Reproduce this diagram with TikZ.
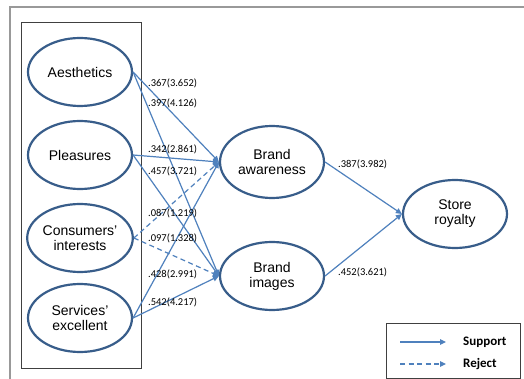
\documentclass[tikz,border=0pt]{standalone}
\usepackage{fontspec}
\setmainfont{Liberation Sans}
\newfontfamily\calfont{Carlito}
\usetikzlibrary{shapes.geometric,arrows.meta}
\definecolor{ellblue}{HTML}{385D8A}
\definecolor{arrblue}{HTML}{4F81BD}
\tikzset{
  construct/.style={ellipse, draw=ellblue, line width=2.2pt, minimum width=104pt, minimum height=68pt, inner sep=0pt, align=center, font=\fontsize{14}{16}\selectfont},
  supp/.style={draw=arrblue, line width=1.2pt, -{Triangle[length=6pt,width=5.5pt]}},
  rejpath/.style={supp, dash pattern=on 5pt off 3.5pt},
  coef/.style={anchor=west, inner sep=0pt, font=\calfont\fontsize{10.5}{12}\selectfont, text=black},
  legtext/.style={anchor=west, inner sep=0pt, font=\calfont\bfseries\fontsize{13}{15}\selectfont}
}
\begin{document}
\begin{tikzpicture}[x=1pt,y=-1pt]
\useasboundingbox (0,0) rectangle (524,379);
\fill[white] (0,0) rectangle (524,379);
% outer frame
\draw[gray!80, line width=1.3pt] (524,7) -- (10,7) -- (10,379);
% inner box
\node[draw=black!75, line width=0.9pt, minimum width=120pt, minimum height=346pt, inner sep=0pt] (group) at (81,195) {};
% constructs
\node[construct] (aes) at (80,72) {Aesthetics};
\node[construct] (ple) at (80,155) {Pleasures};
\node[construct] (con) at (80,238) {Consumers'\\[-1pt]interests};
\node[construct] (ser) at (80,318) {Services'\\[-1pt]excellent};
\node[construct, minimum height=72pt] (aw) at (272,162) {Brand\\[-1pt]awareness};
\node[construct] (im) at (272,276) {Brand\\[-1pt]images};
\node[construct] (st) at (455,214) {Store\\[-1pt]royalty};
% paths
\draw[supp] (aes.east) -- (aw.west);
\draw[supp] (aes.east) -- (im.west);
\draw[supp] (ple.east) -- (aw.west);
\draw[supp] (ple.east) -- (im.west);
\draw[rejpath] (con.east) -- (aw.west);
\draw[rejpath] (con.east) -- (im.west);
\draw[supp] (ser.east) -- (aw.west);
\draw[supp] (ser.east) -- (im.west);
\draw[supp] (aw.east) -- (st.west);
\draw[supp] (im.east) -- (st.west);
% coefficients
\node[coef] (c1) at (148,83) {.367(3.652)};
\node[coef] (c2) at (148,103) {.397(4.126)};
\node[coef] (c3) at (148,149) {.342(2.861)};
\node[coef] (c4) at (148,171) {.457(3.721)};
\node[coef] (c5) at (148,213) {.087(1.219)};
\node[coef] (c6) at (148,238) {.097(1.328)};
\node[coef] (c7) at (148,274) {.428(2.991)};
\node[coef] (c8) at (148,302) {.542(4.217)};
\node[coef] (c9) at (338,164) {.387(3.982)};
\node[coef] (c10) at (338,272) {.452(3.621)};
% legend
\node[draw=black!75, line width=0.9pt, minimum width=134pt, minimum height=55pt, inner sep=0pt] (legend) at (453,350.5) {};
\coordinate (s1) at (400,342);
\coordinate (s2) at (446,342);
\coordinate (r1) at (400,364);
\coordinate (r2) at (446,364);
\draw[supp] (s1) -- (s2);
\draw[rejpath] (r1) -- (r2);
\node[legtext] (ls) at (463,342) {Support};
\node[legtext] (lr) at (463,364) {Reject};
\end{tikzpicture}
\end{document}
